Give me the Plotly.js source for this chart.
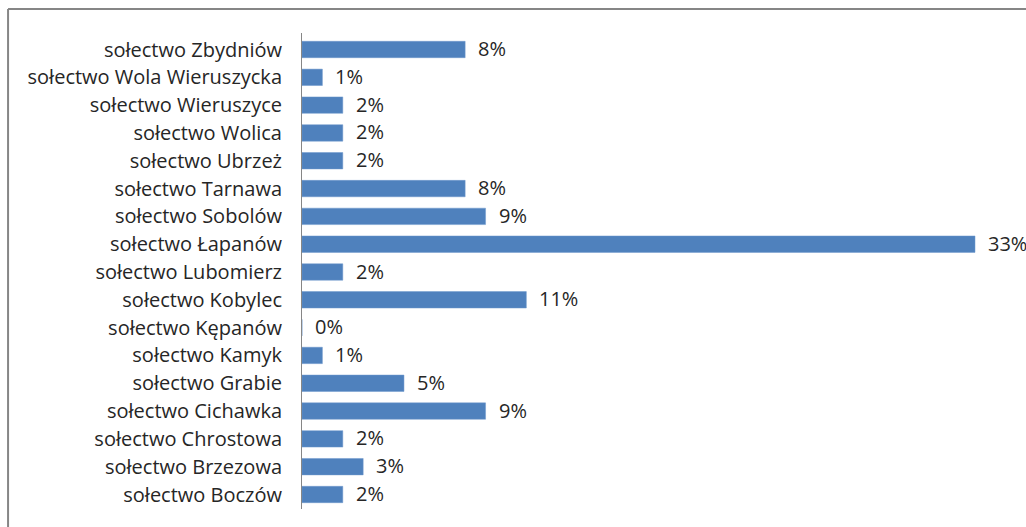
<!DOCTYPE html>
<html>
<head>
<meta charset="utf-8">
<script src="https://cdn.plot.ly/plotly-3.0.1.min.js"></script>
<style>
html,body{margin:0;padding:0;background:#fff;}
#chart{width:1026px;height:527px;}
</style>
</head>
<body>
<div id="chart"></div>
<script>
// Categories listed bottom to top
const categories = [
  "sołectwo Boczów",
  "sołectwo Brzezowa",
  "sołectwo Chrostowa",
  "sołectwo Cichawka",
  "sołectwo Grabie",
  "sołectwo Kamyk",
  "sołectwo Kępanów",
  "sołectwo Kobylec",
  "sołectwo Lubomierz",
  "sołectwo Łapanów",
  "sołectwo Sobolów",
  "sołectwo Tarnawa",
  "sołectwo Ubrzeż",
  "sołectwo Wolica",
  "sołectwo Wieruszyce",
  "sołectwo Wola Wieruszycka",
  "sołectwo Zbydniów"
];
const values = [2, 3, 2, 9, 5, 1, 0, 11, 2, 33, 9, 8, 2, 2, 2, 1, 8];
const valueLabels = values.map(v => v + "%");

const textFont = {family: "Open Sans, Liberation Sans, Arial, sans-serif", size: 20, color: "#262626"};

const trace = {
  type: "bar",
  orientation: "h",
  y: categories,
  x: values,
  marker: {color: "#4F81BD", line: {color: "#6F98CC", width: 0.5}},
  hoverinfo: "none"
};

const annotations = values.map((v, i) => ({
  x: v, y: categories[i], xref: "x", yref: "y",
  text: valueLabels[i], showarrow: false,
  xanchor: "left", yanchor: "middle", xshift: 11, yshift: 1,
  font: textFont
}));

const layout = {
  width: 1026, height: 527,
  margin: {l: 302, r: 0, t: 33, b: 18, pad: 0},
  paper_bgcolor: "#ffffff",
  plot_bgcolor: "#ffffff",
  showlegend: false,
  bargap: 0.41,
  xaxis: {range: [0, 35.5], visible: false, fixedrange: true},
  yaxis: {
    type: "category",
    categoryorder: "array", categoryarray: categories,
    showgrid: false, zeroline: false,
    showline: true, linecolor: "#868686", linewidth: 1,
    ticks: "", ticklen: 0,
    tickfont: textFont,
    automargin: false,
    ticklabelstandoff: 15
  },
  annotations: annotations,
  shapes: [
    {type: "line", xref: "paper", yref: "paper", x0: -0.406, x1: -0.406, y0: -0.2, y1: 1.0504,
     line: {color: "#868686", width: 2}},
    {type: "line", xref: "paper", yref: "paper", x0: -0.406, x1: 1.2, y0: 1.0504, y1: 1.0504,
     line: {color: "#868686", width: 2}}
  ]
};

Plotly.newPlot("chart", [trace], layout, {displayModeBar: false, staticPlot: true});
</script>
</body>
</html>
